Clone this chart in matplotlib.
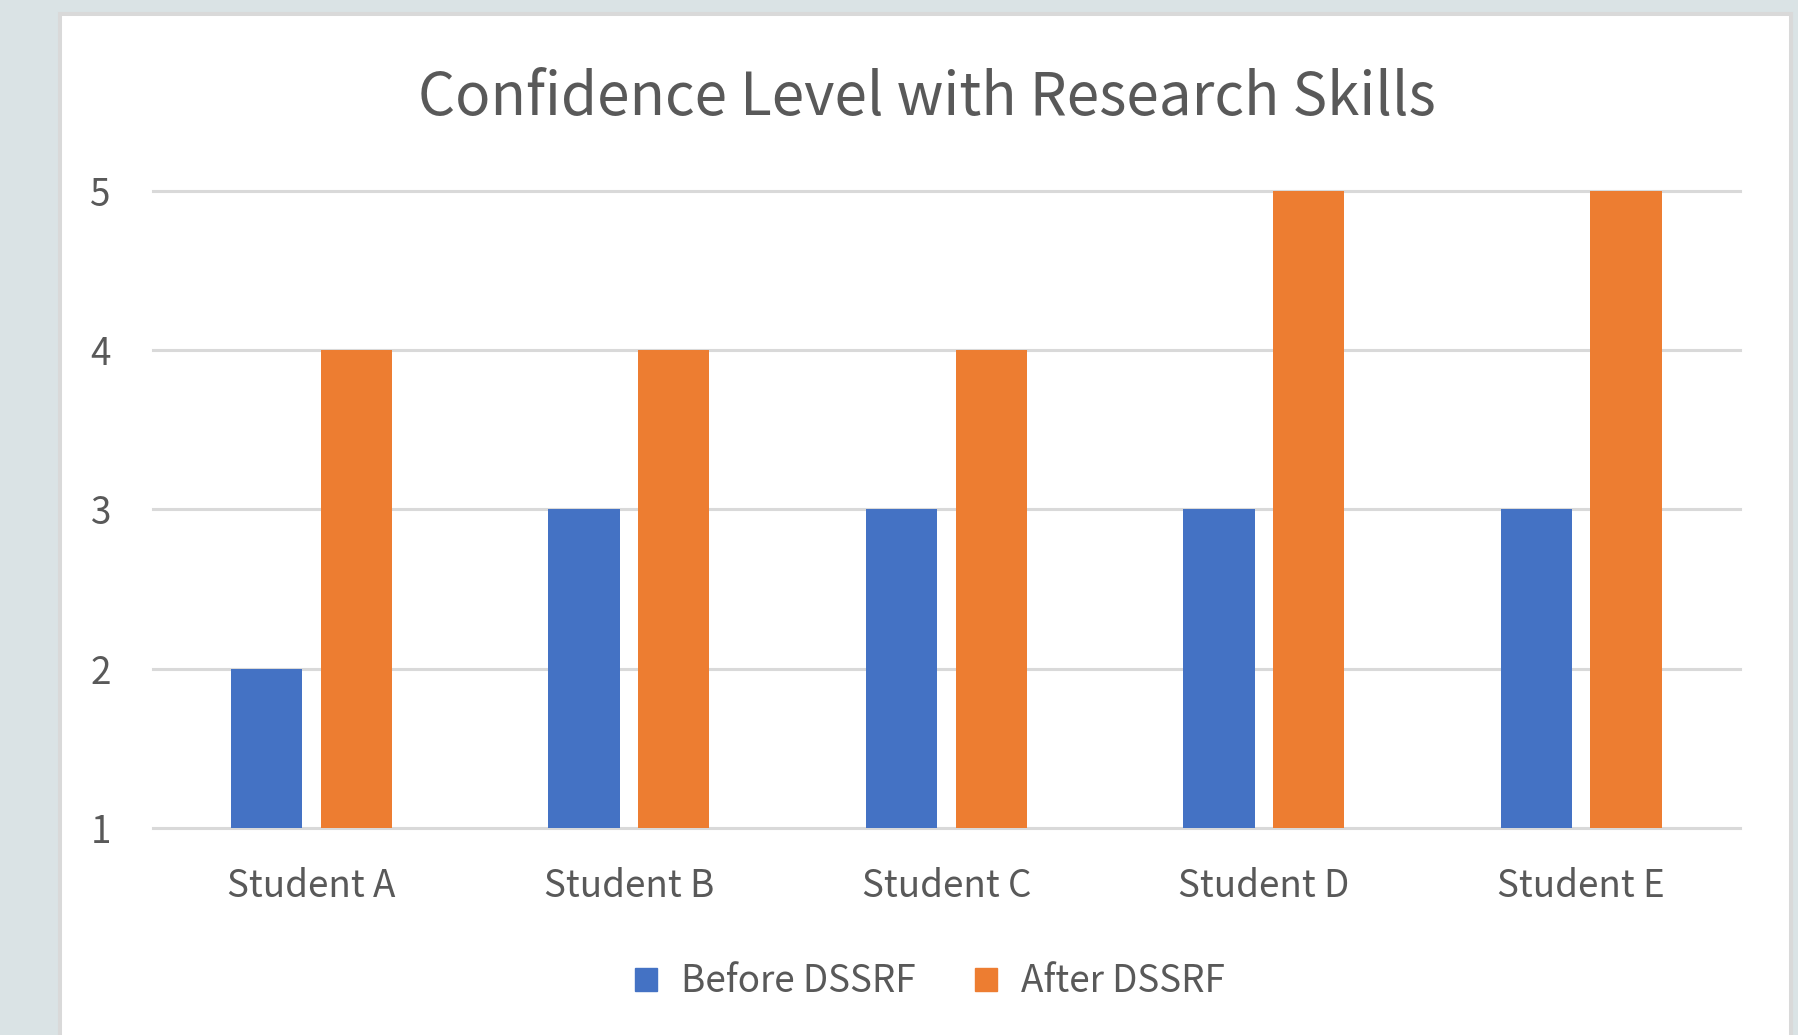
import matplotlib.pyplot as plt
from matplotlib.patches import Rectangle, Patch
import numpy as np

students = ["Student A", "Student B", "Student C", "Student D", "Student E"]
before_dssrf = [2, 3, 3, 3, 3]
after_dssrf = [4, 4, 4, 5, 5]
y_ticks = [1, 2, 3, 4, 5]

BLUE = "#4472C4"
ORANGE = "#ED7D31"
GRID = "#D9D9D9"
TEXT = "#595959"

plt.rcParams["font.family"] = ["Noto Sans CJK SC", "DejaVu Sans"]

fig = plt.figure(figsize=(17.99, 10.35), dpi=100)
fig.patch.set_facecolor("#DAE3E5")

# white card with a grey border
W, H = 1799, 1035
card = Rectangle((60 / W, -0.05), (1791 - 60) / W, (1035 - 14) / H + 0.05,
                 transform=fig.transFigure, facecolor="white",
                 edgecolor=GRID, linewidth=2.9, zorder=-5)
fig.patches.append(card)

ax = fig.add_axes([152.6 / W, 1 - 828.4 / H, (1740 - 152.6) / W,
                   (828.4 - 190.5) / H])
ax.set_facecolor("none")
ax.set_zorder(2)

x = np.arange(len(students))
width = 0.224
offset = 0.141
ax.bar(x - offset, np.array(before_dssrf) - 1, width, bottom=1,
       color=BLUE, zorder=2)
ax.bar(x + offset, np.array(after_dssrf) - 1, width, bottom=1,
       color=ORANGE, zorder=2)

ax.set_xlim(-0.5, len(students) - 0.5)
ax.set_ylim(1, 5)
ax.set_yticks(y_ticks)
ax.set_xticks(x)
ax.set_xticklabels(students)

for y in y_ticks:
    ax.axhline(y, color=GRID, linewidth=2.2, zorder=1, clip_on=False)

for s in ax.spines.values():
    s.set_visible(False)
ax.tick_params(axis="both", length=0, labelsize=26.5, labelcolor=TEXT)
ax.tick_params(axis="y", pad=30)
ax.tick_params(axis="x", pad=28)

fig.text(927 / W, 1 - 115 / H, "Confidence Level with Research Skills",
         ha="center", va="baseline", fontsize=42, color=TEXT)

handles = [Patch(color=BLUE, label="Before DSSRF"),
           Patch(color=ORANGE, label="After DSSRF")]
fig.legend(handles=handles, loc="center", bbox_to_anchor=(0.517, 1 - 982 / H),
           ncol=2, frameon=False, fontsize=26.5, labelcolor=TEXT,
           handlelength=0.6, handleheight=0.6, handletextpad=0.65,
           columnspacing=1.6)

fig.savefig("out.png", dpi=100, facecolor=fig.get_facecolor())
